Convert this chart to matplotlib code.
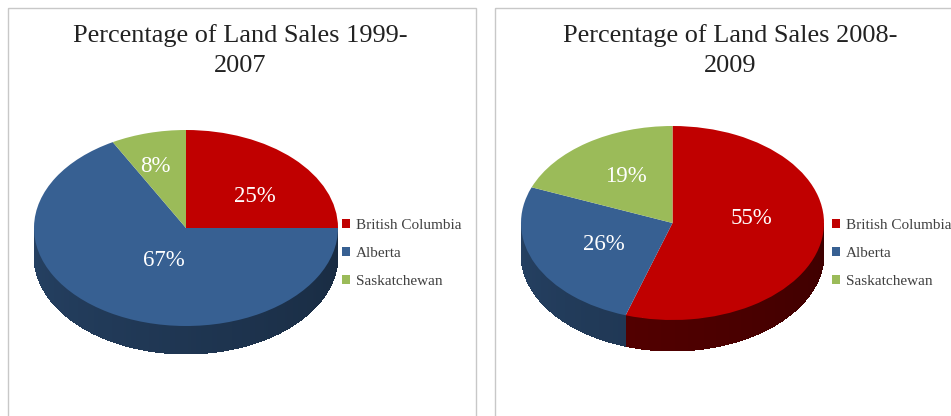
import numpy as np
import matplotlib
matplotlib.use("Agg")
import matplotlib.pyplot as plt
from matplotlib.colors import to_rgb
from matplotlib.patches import Rectangle

plt.rcParams["font.family"] = ["Liberation Serif", "DejaVu Serif"]

W, H = 951, 416

categories = ["British Columbia", "Alberta", "Saskatchewan"]
colors = ["#c00000", "#376092", "#9bbb59"]
titles = ["Percentage of Land Sales 1999-\n2007", "Percentage of Land Sales 2008-\n2009"]
shares_1999_2007 = [25, 67, 8]
shares_2008_2009 = [55, 26, 19]

# Panel layout, in pixels from the top left of the figure
panels = [
    dict(values=shares_1999_2007, frame=(8, 8, 468, 420), title_x=240,
         cx=186, cy=228, rx=152, ry=98, depth=28,
         label_xy=[(255, 196), (164, 261), (155, 167)], legend_x=342),
    dict(values=shares_2008_2009, frame=(495, 8, 470, 420), title_x=730,
         cx=672.5, cy=223, rx=151.5, ry=97, depth=31,
         label_xy=[(751, 219), (604, 245), (626, 176)], legend_x=832),
]


def wall_color(color, theta):
    """Darken a slice colour for the rim, deepest towards the front right."""
    t = (theta - 180.0) / 180.0
    factor = 0.68 - 0.24 * t if color != "#c00000" else 0.50 - 0.18 * t
    return tuple(c * factor for c in to_rgb(color))


fig = plt.figure(figsize=(W / 100, H / 100), dpi=100, facecolor="white")

# Full-figure layer measured in pixels for frames, titles and value labels
overlay = fig.add_axes([0, 0, 1, 1], zorder=5)
overlay.set_xlim(0, W)
overlay.set_ylim(H, 0)
overlay.axis("off")

for p in panels:
    x, y, w, h = p["frame"]
    overlay.add_patch(Rectangle((x, y), w, h, fill=False, edgecolor="#c8c8c8", linewidth=1.0))

    title_top, title_bottom = titles[panels.index(p)].split("\n")
    overlay.text(p["title_x"], 36, title_top, ha="center", va="center", fontsize=18.9, color="#222222")
    overlay.text(p["title_x"], 66, title_bottom, ha="center", va="center", fontsize=18.9, color="#222222")

    # Axes spanning exactly the ellipse, so radius 1 maps to rx and ry
    ax = fig.add_axes([(p["cx"] - p["rx"]) / W, 1 - (p["cy"] + p["ry"]) / H,
                       2 * p["rx"] / W, 2 * p["ry"] / H], zorder=2)
    wedges, _ = ax.pie(p["values"], colors=colors, startangle=90, counterclock=False,
                       radius=1, wedgeprops=dict(linewidth=0))
    ax.set_aspect("auto")
    ax.set_xlim(-1, 1)
    ax.set_ylim(-1, 1)
    for wedge in wedges:
        wedge.set_clip_on(False)
        wedge.set_zorder(3)

    # Rim of the disc: short quads along the lower half of each slice
    drop = p["depth"] / p["ry"]
    end = 90.0
    for value, color in zip(p["values"], colors):
        start = end - value * 3.6
        lo, hi = start % 360, (start % 360) + value * 3.6
        for a0 in np.arange(np.floor(lo), hi, 1.0):
            for shift in (0, 360):
                b0 = max(a0, lo) + shift
                b1 = min(a0 + 1.0, hi) + shift
                if b1 <= 180 or b0 >= 360:
                    continue
                b0, b1 = max(b0, 180), min(b1, 360)
                th = np.radians([b0, b1])
                xs = np.cos(th)
                ys = np.sin(th)
                ax.fill([xs[0], xs[1], xs[1], xs[0]],
                        [ys[0], ys[1], ys[1] - drop, ys[0] - drop],
                        color=wall_color(color, (b0 + b1) / 2), linewidth=0,
                        antialiased=False, clip_on=False, zorder=1)
        end = start

    for value, (lx, ly) in zip(p["values"], p["label_xy"]):
        overlay.text(lx, ly, f"{value}%", ha="center", va="center", fontsize=16.5, color="white")

    # Legend anchored just right of the disc
    ax.legend(wedges, categories, loc="upper left", frameon=False,
              bbox_to_anchor=(p["legend_x"] / W, 1 - 219 / H), bbox_transform=fig.transFigure,
              prop=dict(size=11), handlelength=0.55, handleheight=0.55, handletextpad=0.35,
              labelspacing=0.98, borderpad=0, borderaxespad=0, labelcolor="#404040")

fig.savefig("out.png", dpi=100)
